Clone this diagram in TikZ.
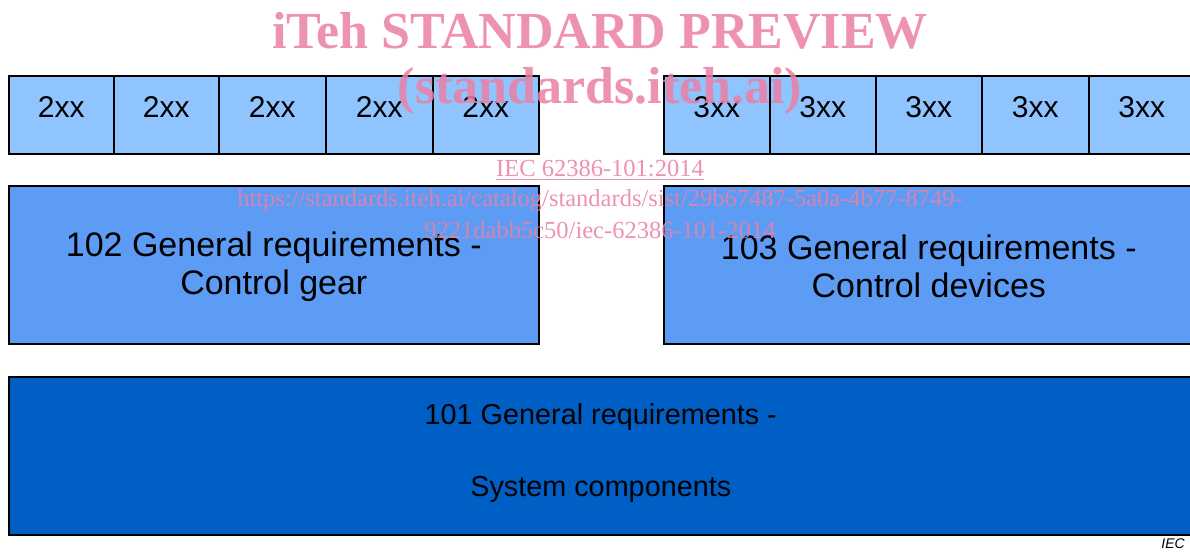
\documentclass[tikz,border=0pt]{standalone}
\usepackage{fontspec}
\setmainfont{Liberation Sans}
\newfontfamily\wmfont{Liberation Serif}
\definecolor{lightblk}{HTML}{90C4FF}
\definecolor{midblk}{HTML}{5D9CF5}
\definecolor{darkblk}{HTML}{005FC5}
\definecolor{wmpink}{HTML}{EC7FA4}
\begin{document}
\begin{tikzpicture}[x=1pt,y=-1pt,
  cell/.style={draw=black, line width=1.6pt, fill=lightblk, minimum height=78pt, anchor=north west, inner sep=0pt},
  celltext/.style={inner sep=0pt, font=\fontsize{30}{34}\selectfont},
  genbox/.style={draw=black, line width=1.6pt, fill=midblk, minimum width=530pt, minimum height=158pt, anchor=north west, inner sep=0pt},
  gentext/.style={align=center, inner sep=0pt, font=\fontsize{34}{38}\selectfont},
  basebox/.style={draw=black, line width=1.6pt, fill=darkblk, minimum width=1184pt, minimum height=158pt, anchor=north west, inner sep=0pt},
  basetext/.style={align=center, inner sep=0pt, font=\fontsize{28.8}{72}\selectfont},
  wm/.style={text=wmpink, text opacity=0.85, inner sep=0pt},
  wmbig/.style={wm, font=\wmfont\bfseries\fontsize{52}{56}\selectfont},
  wmsmall/.style={wm, font=\wmfont\fontsize{24.5}{28}\selectfont}
]
\useasboundingbox (0,0) rectangle (1190,551);
\fill[white] (0,0) rectangle (1190,551);

% 2xx row
\foreach \i/\x/\w in {1/8/105,2/113/105,3/218/107,4/325/107,5/432/106}{
  \node[cell, minimum width=\w pt] (a\i) at (\x,75) {};
  \node[celltext] (ta\i) at ([yshift=8pt]a\i.center) {2xx};
}
% 3xx row
\foreach \i/\x/\w in {1/663/106,2/769/106,3/875/106,4/981/107,5/1088/106}{
  \node[cell, minimum width=\w pt] (b\i) at (\x,75) {};
  \node[celltext] (tb\i) at ([yshift=8pt]b\i.center) {3xx};
}

\node[genbox] (g102) at (8,185) {};
\node[gentext] (t102) at ([yshift=-2pt]g102.center) {102 General requirements -\\Control gear};
\node[genbox] (g103) at (663,185) {};
\node[gentext] (t103) at ([yshift=-2pt]g103.center) {103 General requirements -\\Control devices};
\node[basebox] (g101) at (8,376) {};
\node[basetext] (t101) at ([yshift=3pt]g101.center) {101 General requirements -\\System components};

\node[anchor=east, inner sep=0pt, font=\itshape\fontsize{14}{16}\selectfont] (iec) at (1185,544) {IEC};

% watermark
\node[wmbig] (w1) at (600,31) {iTeh STANDARD PREVIEW};
\node[wmbig] (w2) at (600,91) {(standards.iteh.ai)};
\node[wmsmall] (w3) at (600,170) {\underline{IEC 62386-101:2014}};
\node[wmsmall] (w4) at (600,201) {https://standards.iteh.ai/catalog/standards/sist/29b67487-5a0a-4b77-8749-};
\node[wmsmall] (w5) at (600,230) {9221dabb5c50/iec-62386-101-2014};
\end{tikzpicture}
\end{document}
